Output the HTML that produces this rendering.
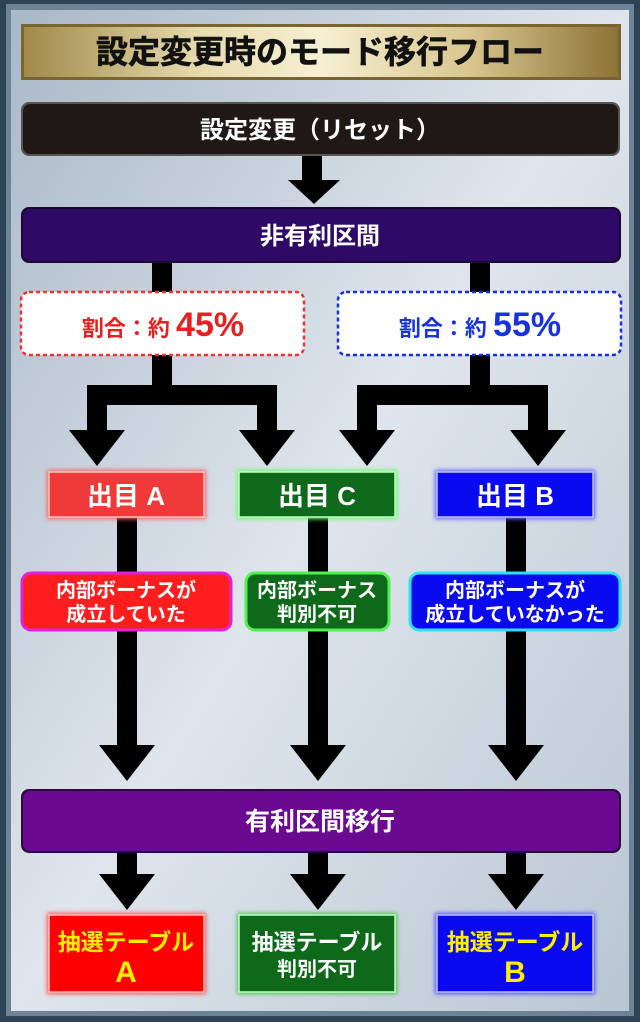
<!DOCTYPE html>
<html><head><meta charset="utf-8"><style>
html,body{margin:0;padding:0;width:640px;height:1022px;overflow:hidden;background:#34495e}
svg{display:block}
text{font-family:"Liberation Sans","Noto Sans CJK JP",sans-serif;font-weight:bold}
</style></head><body>
<svg width="640" height="1022" viewBox="0 0 640 1022" xmlns="http://www.w3.org/2000/svg">
<defs>
<linearGradient id="bg" x1="0" y1="0" x2="1" y2="1">
<stop offset="0" stop-color="#a9b8c8"/><stop offset="0.5" stop-color="#dfe5ec"/><stop offset="1" stop-color="#b9c6d3"/></linearGradient>
<linearGradient id="gold" x1="0" y1="0" x2="1" y2="0">
<stop offset="0" stop-color="#a08a4a"/><stop offset="0.3" stop-color="#e8dcae"/><stop offset="0.5" stop-color="#f6efd2"/><stop offset="0.75" stop-color="#d9c68e"/><stop offset="1" stop-color="#8c7336"/></linearGradient>
<filter id="gl" x="-10%" y="-20%" width="120%" height="140%"><feGaussianBlur stdDeviation="2"/></filter>
</defs>
<rect x="0" y="0" width="640" height="1022" fill="#2f4356"/>
<rect x="6" y="4" width="628" height="1012" fill="#6f8397"/>
<rect x="11" y="10" width="618" height="1001" fill="url(#bg)"/>
<rect x="21" y="24" width="600" height="56" fill="#7a6530"/>
<rect x="24" y="27" width="594" height="50" fill="url(#gold)"/>
<text x="320" y="63" font-size="32" text-anchor="middle" fill="#111" stroke="#111" stroke-width="0.6">設定変更時のモード移行フロー</text>
<rect x="21" y="102" width="599" height="54" rx="8" fill="#555"/>
<rect x="23" y="104" width="595" height="50" rx="7" fill="#201814"/>
<text x="320" y="138" font-size="24" text-anchor="middle" fill="#fff">設定変更（リセット）</text>
<rect x="302" y="156" width="20" height="26" fill="#000"/>
<polygon points="288,180 340,180 314,204" fill="#000"/>
<rect x="21" y="207" width="600" height="56" rx="8" fill="#1a0830"/>
<rect x="23" y="209" width="596" height="52" rx="7" fill="#2e0a66"/>
<text x="320" y="244" font-size="24" text-anchor="middle" fill="#fff">非有利区間</text>
<rect x="152" y="263" width="20" height="142" fill="#000"/>
<rect x="470" y="263" width="20" height="142" fill="#000"/>
<rect x="21" y="292" width="283" height="63" rx="8" fill="#fff" stroke="#e33" stroke-width="2.5" stroke-dasharray="4,3"/>
<text x="163" y="336" text-anchor="middle" fill="#e62020"><tspan font-size="22">割合：約 </tspan><tspan font-size="34">45%</tspan></text>
<rect x="338" y="292" width="283" height="63" rx="8" fill="#fff" stroke="#1530e0" stroke-width="2.5" stroke-dasharray="4,3"/>
<text x="480" y="336" text-anchor="middle" fill="#1733e0"><tspan font-size="22">割合：約 </tspan><tspan font-size="34">55%</tspan></text>
<rect x="87" y="385" width="190" height="20" fill="#000"/>
<rect x="87" y="385" width="20" height="48" fill="#000"/>
<rect x="257" y="385" width="20" height="48" fill="#000"/>
<polygon points="69,430 125,430 97,466" fill="#000"/>
<polygon points="239,430 295,430 267,466" fill="#000"/>
<rect x="357" y="385" width="191" height="20" fill="#000"/>
<rect x="357" y="385" width="20" height="48" fill="#000"/>
<rect x="528" y="385" width="20" height="48" fill="#000"/>
<polygon points="339,430 395,430 367,466" fill="#000"/>
<polygon points="510,430 566,430 538,466" fill="#000"/>
<rect x="117" y="517" width="20" height="230" fill="#000"/>
<rect x="308" y="517" width="20" height="230" fill="#000"/>
<rect x="506" y="517" width="20" height="230" fill="#000"/>
<polygon points="99,745 155,745 127,781" fill="#000"/>
<polygon points="290,745 346,745 318,781" fill="#000"/>
<polygon points="488,745 544,745 516,781" fill="#000"/>
<rect x="47" y="470" width="159" height="49" fill="#ff6060" filter="url(#gl)"/>
<rect x="49" y="472" width="155" height="45" fill="#f03a3a" stroke="#ffc0c0" stroke-width="1.5"/>
<text x="126" y="505" font-size="26" text-anchor="middle" fill="#fff">出目 A</text>
<rect x="237" y="470" width="160" height="49" fill="#60ff60" filter="url(#gl)"/>
<rect x="239" y="472" width="156" height="45" fill="#0e6a1a" stroke="#c0ffc0" stroke-width="1.5"/>
<text x="317" y="505" font-size="26" text-anchor="middle" fill="#fff">出目 C</text>
<rect x="435" y="470" width="160" height="49" fill="#6060ff" filter="url(#gl)"/>
<rect x="437" y="472" width="156" height="45" fill="#0a0af0" stroke="#c0c0ff" stroke-width="1.5"/>
<text x="515" y="505" font-size="26" text-anchor="middle" fill="#fff">出目 B</text>
<rect x="22" y="573" width="209" height="57" rx="9" fill="#ff1e1e" stroke="#e020e0" stroke-width="3"/>
<text x="126" y="597" font-size="20" text-anchor="middle" fill="#fff">内部ボーナスが</text>
<text x="126" y="621" font-size="20" text-anchor="middle" fill="#fff">成立していた</text>
<rect x="246" y="573" width="143" height="57" rx="9" fill="#0e6a1a" stroke="#50f050" stroke-width="3"/>
<text x="317" y="597" font-size="20" text-anchor="middle" fill="#fff">内部ボーナス</text>
<text x="317" y="621" font-size="20" text-anchor="middle" fill="#fff">判別不可</text>
<rect x="410" y="573" width="210" height="57" rx="9" fill="#0a0af0" stroke="#30e0f0" stroke-width="3"/>
<text x="515" y="597" font-size="20" text-anchor="middle" fill="#fff">内部ボーナスが</text>
<text x="515" y="621" font-size="20" text-anchor="middle" fill="#fff">成立していなかった</text>
<rect x="21" y="789" width="600" height="64" rx="8" fill="#2a0a3a"/>
<rect x="23" y="791" width="596" height="60" rx="7" fill="#6a0a90"/>
<text x="320" y="830" font-size="25" text-anchor="middle" fill="#fff">有利区間移行</text>
<rect x="117" y="853" width="20" height="24" fill="#000"/>
<rect x="308" y="853" width="20" height="24" fill="#000"/>
<rect x="506" y="853" width="20" height="24" fill="#000"/>
<polygon points="99,874 155,874 127,910" fill="#000"/>
<polygon points="290,874 346,874 318,910" fill="#000"/>
<polygon points="488,874 544,874 516,910" fill="#000"/>
<rect x="47" y="913" width="159" height="81" fill="#ff5050" filter="url(#gl)"/>
<rect x="49" y="915" width="155" height="77" fill="#ff0000" stroke="#ffc0c0" stroke-width="1.5"/>
<text x="126" y="950" font-size="23" text-anchor="middle" fill="#ffee00">抽選テーブル</text>
<text x="126" y="982" font-size="30" text-anchor="middle" fill="#ffee00">A</text>
<rect x="237" y="913" width="160" height="81" fill="#50c050" filter="url(#gl)"/>
<rect x="239" y="915" width="156" height="77" fill="#0e6a1a" stroke="#c0ffc0" stroke-width="1.5"/>
<text x="317" y="950" font-size="22" text-anchor="middle" fill="#fff">抽選テーブル</text>
<text x="317" y="976" font-size="20" text-anchor="middle" fill="#fff">判別不可</text>
<rect x="435" y="913" width="160" height="81" fill="#5050ff" filter="url(#gl)"/>
<rect x="437" y="915" width="156" height="77" fill="#0a0af0" stroke="#c0c0ff" stroke-width="1.5"/>
<text x="515" y="950" font-size="23" text-anchor="middle" fill="#ffee00">抽選テーブル</text>
<text x="515" y="982" font-size="30" text-anchor="middle" fill="#ffee00">B</text>
</svg>
</body></html>
